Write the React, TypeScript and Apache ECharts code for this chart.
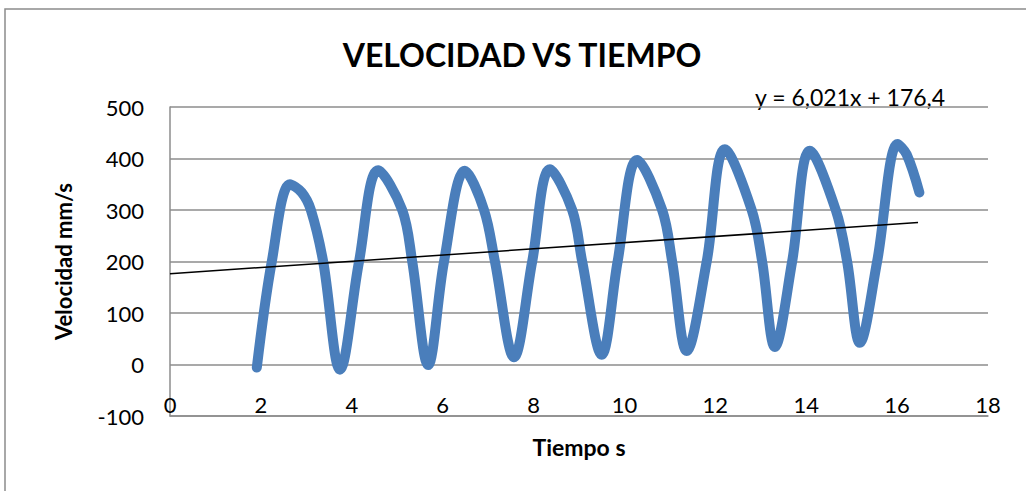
import React, { useEffect, useRef } from "react";
import * as echarts from "echarts";

const chartTitle = "VELOCIDAD VS TIEMPO";
const xAxisName = "Tiempo s";
const yAxisName = "Velocidad mm/s";
const trendLabel = "y = 6,021x + 176,4";

const timeS = [
  1.91, 2.24, 2.64, 2.9, 3.1, 3.37, 3.74,
  4.16, 4.58, 5.11, 5.33, 5.68,
  6.03, 6.49, 6.91, 7.15, 7.57,
  7.97, 8.36, 8.85, 9.07, 9.5,
  9.85, 10.28, 10.83, 11.05, 11.37,
  11.81, 12.21, 12.8, 13.03, 13.31,
  13.69, 14.08, 14.65, 14.9, 15.18,
  15.56, 16.01, 16.21, 16.49,
];
const velocity = [
  -6, 200, 350, 334, 300, 200, -10,
  200, 377, 300, 200, -1,
  200, 376, 300, 200, 14,
  200, 379, 300, 200, 19,
  200, 397, 300, 200, 26,
  200, 418, 300, 200, 34,
  200, 415, 300, 200, 42,
  200, 428, 408, 334,
];

const trendSlope = 6.021;
const trendIntercept = 176.4;
const trendX = [0, 16.46];

const xTicks = { min: 0, max: 18, interval: 2 };
const yTicks = { min: -100, max: 500, interval: 100 };

const FONT = "Lato, 'Open Sans', sans-serif";

export default function App() {
  const ref = useRef<HTMLDivElement>(null);

  useEffect(() => {
    if (!ref.current) return;
    const chart = echarts.init(ref.current, undefined, { renderer: "svg" });
    const seriesData = timeS.map((t, i) => [t, velocity[i]]);
    const trendData = trendX.map((t) => [t, trendSlope * t + trendIntercept]);

    chart.setOption({
      animation: false,
      backgroundColor: "#ffffff",
      textStyle: { fontFamily: FONT },
      title: {
        text: chartTitle,
        left: 517,
        top: 33,
        textAlign: "center",
        textStyle: { fontFamily: FONT, fontSize: 32, fontWeight: "bold", color: "#000" },
      },
      grid: { left: 170, right: 38, top: 107, bottom: 75, containLabel: false },
      xAxis: {
        type: "value",
        min: xTicks.min,
        max: xTicks.max,
        interval: xTicks.interval,
        name: xAxisName,
        nameLocation: "middle",
        nameGap: 19,
        nameTextStyle: { fontFamily: FONT, fontSize: 23, fontWeight: "bold", color: "#000" },
        axisLine: { show: true, onZero: false, lineStyle: { color: "#8c8c8c", width: 1.5 } },
        axisTick: { show: false },
        splitLine: { show: false },
        axisLabel: { inside: true, margin: 1, fontFamily: FONT, fontSize: 22, color: "#000" },
      },
      yAxis: {
        type: "value",
        min: yTicks.min,
        max: yTicks.max,
        interval: yTicks.interval,
        name: yAxisName,
        nameLocation: "middle",
        nameGap: 96,
        nameRotate: 90,
        nameTextStyle: { fontFamily: FONT, fontSize: 22, fontWeight: "bold", color: "#000" },
        axisLine: { show: true, lineStyle: { color: "#8c8c8c", width: 1.5 } },
        axisTick: { show: false },
        splitLine: { show: true, lineStyle: { color: "#8c8c8c", width: 1.5 } },
        axisLabel: { margin: 26, fontFamily: FONT, fontSize: 22, color: "#000" },
      },
      graphic: [
        {
          type: "rect",
          shape: { x: 5, y: 9, width: 1040, height: 500 },
          style: { fill: "none", stroke: "#8c8c8c", lineWidth: 1.5 },
          silent: true,
          z: -1,
        },
        {
          type: "text",
          x: 755,
          y: 97,
          style: {
            text: trendLabel,
            fontFamily: FONT,
            fontSize: 23,
            fill: "#000",
            verticalAlign: "middle",
          },
        },
      ],
      series: [
        {
          name: "Velocidad",
          type: "line",
          data: seriesData,
          smooth: 0.35,
          showSymbol: false,
          symbol: "none",
          lineStyle: { color: "#4a7ebb", width: 10, cap: "round", join: "round" },
          z: 2,
        },
        {
          name: "Tendencia",
          type: "line",
          data: trendData,
          showSymbol: false,
          symbol: "none",
          lineStyle: { color: "#000", width: 1.5 },
          z: 3,
        },
      ],
    });
    return () => chart.dispose();
  }, []);

  return (
    <div
      ref={ref}
      style={{ position: "fixed", left: 0, top: 0, width: 1026, height: 491 }}
    />
  );
}
